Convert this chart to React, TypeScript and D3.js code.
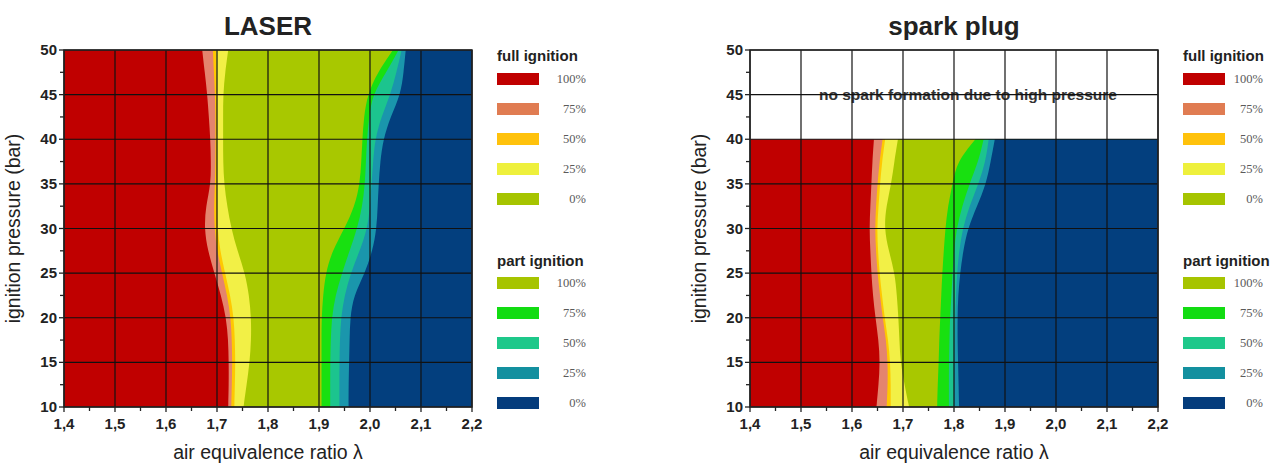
import React from 'react'
import * as d3 from 'd3'

// pressure levels (bar) at which the band edges were read
const laserPressure = [10, 12.5, 15, 17.5, 20, 22.5, 25, 27.5, 30, 32.5, 35, 37.5, 40, 42.5, 45, 47.5, 50]
const sparkPressure = [10, 12.5, 15, 17.5, 20, 22.5, 25, 27.5, 30, 32.5, 35, 37.5, 40]

// LASER: lambda where each band ends (left to right)
const laserRedEnd = [1.722, 1.723, 1.723, 1.722, 1.718, 1.708, 1.695, 1.682, 1.675, 1.678, 1.688, 1.688, 1.687, 1.684, 1.681, 1.676, 1.671]
const laserSalmonEnd = [1.728, 1.729, 1.730, 1.729, 1.727, 1.720, 1.710, 1.700, 1.695, 1.694, 1.696, 1.697, 1.697, 1.697, 1.696, 1.694, 1.692]
const laserOrangeEnd = [1.734, 1.735, 1.736, 1.735, 1.733, 1.726, 1.716, 1.706, 1.701, 1.700, 1.700, 1.700, 1.700, 1.700, 1.700, 1.699, 1.698]
const laserYellowEnd = [1.752, 1.758, 1.764, 1.767, 1.767, 1.763, 1.755, 1.740, 1.728, 1.720, 1.714, 1.712, 1.712, 1.712, 1.712, 1.716, 1.722]
const laserOliveEnd = [1.905, 1.905, 1.905, 1.905, 1.905, 1.908, 1.913, 1.926, 1.950, 1.970, 1.980, 1.983, 1.985, 1.988, 1.995, 2.015, 2.045]
const laserGreenEnd = [1.922, 1.922, 1.922, 1.923, 1.925, 1.932, 1.945, 1.960, 1.975, 1.985, 1.990, 1.992, 1.994, 1.998, 2.005, 2.032, 2.056]
const laserTealEnd = [1.940, 1.940, 1.940, 1.941, 1.943, 1.950, 1.962, 1.980, 1.995, 2.000, 2.003, 2.006, 2.010, 2.022, 2.040, 2.052, 2.062]
const laserCyanEnd = [1.958, 1.958, 1.959, 1.960, 1.961, 1.968, 1.990, 2.005, 2.013, 2.015, 2.017, 2.020, 2.026, 2.040, 2.060, 2.066, 2.070]

// spark plug: lambda where each band ends (left to right)
const sparkRedEnd = [1.648, 1.652, 1.655, 1.652, 1.646, 1.641, 1.638, 1.636, 1.634, 1.636, 1.638, 1.640, 1.643]
const sparkSalmonEnd = [1.668, 1.670, 1.670, 1.667, 1.660, 1.655, 1.650, 1.647, 1.645, 1.647, 1.650, 1.654, 1.660]
const sparkOrangeEnd = [1.676, 1.676, 1.675, 1.671, 1.664, 1.659, 1.654, 1.651, 1.649, 1.652, 1.655, 1.659, 1.665]
const sparkYellowEnd = [1.712, 1.703, 1.695, 1.693, 1.691, 1.688, 1.684, 1.672, 1.663, 1.667, 1.677, 1.683, 1.690]
const sparkOliveEnd = [1.767, 1.768, 1.770, 1.771, 1.773, 1.775, 1.777, 1.780, 1.783, 1.788, 1.797, 1.806, 1.842]
const sparkGreenEnd = [1.790, 1.790, 1.790, 1.791, 1.792, 1.795, 1.797, 1.800, 1.805, 1.816, 1.830, 1.848, 1.858]
const sparkTealEnd = [1.800, 1.800, 1.800, 1.801, 1.802, 1.804, 1.806, 1.810, 1.817, 1.830, 1.848, 1.862, 1.868]
const sparkCyanEnd = [1.810, 1.809, 1.808, 1.807, 1.807, 1.808, 1.812, 1.818, 1.827, 1.845, 1.863, 1.872, 1.880]

const bandColors = ['#c00000', '#e4846e', '#ffc800', '#f2f046', '#a8c800', '#18e010', '#1cc48e', '#1a96ac', '#033f7e']

const legendLabels = ['100%', '75%', '50%', '25%', '0%']
const fullColors = ['#c00000', '#e07c52', '#ffc20c', '#eef03c', '#a6c400']
const partColors = ['#a6c400', '#12dc12', '#1ec88a', '#13909f', '#043c7c']

const lambdaMin = 1.4
const lambdaMax = 2.2

function Panel({ left, title, pressure, edges, note, legendX, labelX, id }) {
  const width = 408
  const top = 50
  const bottom = 407

  const x = d3.scaleLinear().domain([lambdaMin, lambdaMax]).range([left, left + width])
  const y = d3.scaleLinear().domain([10, 50]).range([bottom, top])

  const idx = d3.range(pressure.length)
  const starts = [pressure.map(() => lambdaMin - 0.05), ...edges]

  // each band runs from its start edge to the right border, painted left to right
  const bandPath = (lo) => d3.area()
    .y(i => y(pressure[i]))
    .x0(i => x(lo[i]))
    .x1(() => x(lambdaMax) + 5)
    .curve(d3.curveBasis)(idx)

  const xMajor = d3.range(0, 9).map(i => lambdaMin + i * 0.1)
  const xMinor = d3.range(0, 8).map(i => lambdaMin + 0.05 + i * 0.1)
  const yMajor = d3.range(10, 51, 5)
  const yMinor = d3.range(12.5, 50, 5)
  const fmt = v => d3.format('.1f')(v).replace('.', ',')

  const font = 'Liberation Sans, Arial, sans-serif'

  return (
    <g>
      <defs>
        <clipPath id={id}>
          <rect x={x(lambdaMin)} y={top} width={width} height={bottom - top} />
        </clipPath>
      </defs>
      <g clipPath={`url(#${id})`}>
        {starts.map((lo, k) => (
          <path key={k} d={bandPath(lo)} fill={bandColors[k]} />
        ))}
      </g>
      {note && (
        <text x={x(1.8) + 14} y={y(45) + 5} textAnchor="middle" fontFamily={font} fontWeight="bold"
          fontSize={15.5} fill="#333">{note}</text>
      )}
      <g stroke="#111" strokeWidth={1.2}>
        {xMajor.map(v => <line key={v} x1={x(v)} x2={x(v)} y1={top} y2={bottom} />)}
        {yMajor.map(v => <line key={v} x1={x(lambdaMin)} x2={x(lambdaMax)} y1={y(v)} y2={y(v)} />)}
      </g>
      <rect x={x(lambdaMin)} y={top} width={width} height={bottom - top} fill="none" stroke="#222" strokeWidth={1.5} />
      <g stroke="#222" strokeWidth={1.3}>
        {xMajor.map(v => <line key={v} x1={x(v)} x2={x(v)} y1={bottom} y2={bottom + 5} />)}
        {xMinor.map(v => <line key={v} x1={x(v)} x2={x(v)} y1={bottom} y2={bottom + 4} />)}
        {yMajor.map(v => <line key={v} x1={x(lambdaMin) - 5} x2={x(lambdaMin)} y1={y(v)} y2={y(v)} />)}
        {yMinor.map(v => <line key={v} x1={x(lambdaMin) - 4} x2={x(lambdaMin)} y1={y(v)} y2={y(v)} />)}
      </g>
      <g fontFamily={font} fontWeight="bold" fontSize={15} fill="#222">
        {xMajor.map(v => <text key={v} x={x(v)} y={bottom + 22} textAnchor="middle">{fmt(v)}</text>)}
        {yMajor.map(v => <text key={v} x={x(lambdaMin) - 7} y={y(v) + 5} textAnchor="end">{v}</text>)}
      </g>
      <text x={x(1.8)} y={459} textAnchor="middle" fontFamily={font} fontSize={19.5} fill="#222">
        air equivalence ratio λ
      </text>
      <text transform={`translate(${x(lambdaMin) - 44},${(top + bottom) / 2}) rotate(-90)`} textAnchor="middle"
        fontFamily={font} fontSize={19.5} fill="#222">ignition pressure (bar)</text>
      <text x={x(1.8)} y={35} textAnchor="middle" fontFamily={font} fontWeight="bold" fontSize={26} fill="#222">
        {title}
      </text>
      <Legend x={legendX} labelX={labelX} heading="full ignition" headingY={61} firstY={79} colors={fullColors} />
      <Legend x={legendX} labelX={labelX} heading="part ignition" headingY={266} firstY={283} colors={partColors} />
    </g>
  )
}

function Legend({ x, labelX, heading, headingY, firstY, colors }) {
  return (
    <g>
      <text x={x} y={headingY} fontFamily="Liberation Sans, Arial, sans-serif" fontWeight="bold" fontSize={15} fill="#222">
        {heading}
      </text>
      {legendLabels.map((label, i) => (
        <g key={label}>
          <rect x={x} y={firstY + i * 30 - 6} width={42} height={12} fill={colors[i]} />
          <text x={labelX} y={firstY + i * 30 + 4} textAnchor="end" fontFamily="Liberation Serif, Times New Roman, serif"
            fontSize={12.5} fill="#5a5a5a">{label}</text>
        </g>
      ))}
    </g>
  )
}

export default function App() {
  return (
    <div style={{ position: 'absolute', left: 0, top: 0 }}>
      <svg width={1283} height={466} style={{ display: 'block', background: '#fff' }}>
        <Panel id="clip-laser" left={64} title="LASER" pressure={laserPressure}
          edges={[laserRedEnd, laserSalmonEnd, laserOrangeEnd, laserYellowEnd, laserOliveEnd, laserGreenEnd, laserTealEnd, laserCyanEnd]}
          legendX={497} labelX={586} />
        <Panel id="clip-spark" left={750} title="spark plug" pressure={sparkPressure}
          edges={[sparkRedEnd, sparkSalmonEnd, sparkOrangeEnd, sparkYellowEnd, sparkOliveEnd, sparkGreenEnd, sparkTealEnd, sparkCyanEnd]}
          note="no spark formation due to high pressure" legendX={1183} labelX={1263} />
      </svg>
    </div>
  )
}
